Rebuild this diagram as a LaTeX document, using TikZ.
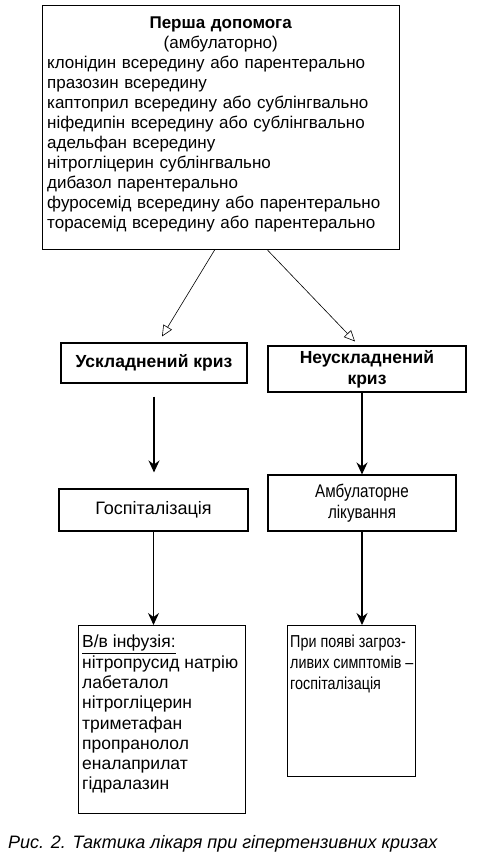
\documentclass[tikz,border=0pt]{standalone}
\usepackage{fontspec}
\setmainfont{Liberation Sans}
\newfontfamily\narrowsans[FakeStretch=0.83]{Liberation Sans}
\usetikzlibrary{arrows.meta}

\tikzset{
    box/.style={draw, line width=1.1pt, inner sep=0pt, anchor=north west},
    boxtext/.style={anchor=north west, align=left, inner sep=0pt,
        font=\fontsize{17}{20}\selectfont},
    smallbox/.style={draw, line width=1.1pt, inner sep=0pt, align=center,
        font=\fontsize{17.5}{21}\selectfont},
    openarrow/.style={line width=0.6pt, -{Triangle[open, length=11pt, width=10pt]}},
    solidarrow/.style={line width=1.1pt, -{Stealth[length=12pt, width=11pt, inset=4pt]}}
}

\begin{document}
\begin{tikzpicture}[x=1pt, y=-1pt]
    \useasboundingbox (0,0) rectangle (477,860);

    % first aid box
    \node[box, minimum width=357pt, minimum height=244pt] (aid) at (42,5) {};
    \node[boxtext, text width=347pt] (aidtext) at (47,17) {%
        {\centering\textbf{Перша допомога}\\(амбулаторно)\par}
        клонідин всередину або парентерально\\
        празозин всередину\\
        каптоприл всередину або сублінгвально\\
        ніфедипін всередину або сублінгвально\\
        адельфан всередину\\
        нітрогліцерин сублінгвально\\
        дибазол парентерально\\
        фуросемід всередину або парентерально\\
        торасемід всередину або парентерально};

    % crisis types
    \node[smallbox, minimum width=186pt, minimum height=40pt] (compl) at (154,363) {\textbf{Ускладнений криз}};
    \node[smallbox, minimum width=198pt, minimum height=46pt] (uncompl) at (367,369) {\textbf{Неускладнений}\\\textbf{криз}};

    \draw[openarrow] ([xshift=-6.5pt]aid.south) -- ([xshift=8pt, yshift=6pt]compl.north);
    \draw[openarrow] ([xshift=46.5pt]aid.south) -- ([xshift=-12pt, yshift=4pt]uncompl.north);

    % next steps
    \node[smallbox, minimum width=189pt, minimum height=42pt, font=\fontsize{18}{21}\selectfont] (hosp) at (153.5,510) {Госпіталізація};
    \node[smallbox, minimum width=188pt, minimum height=56pt, font=\narrowsans\fontsize{18.3}{21}\selectfont] (amb) at (362,503) {Амбулаторне\\лікування};

    \draw[solidarrow, shorten <=13pt, shorten >=16pt] (compl.south) -- (compl.south |- hosp.north);
    \draw[solidarrow] (amb.north |- uncompl.south) -- (amb.north);

    % treatment boxes
    \node[box, minimum width=167pt, minimum height=188pt] (infus) at (78,625) {};
    \node[boxtext, font=\fontsize{17.5}{20.3}\selectfont] (infustext) at (82,635) {%
        \underline{В/в інфузія:}\\
        нітропрусид натрію\\
        лабеталол\\
        нітрогліцерин\\
        триметафан\\
        пропранолол\\
        еналаприлат\\
        гідралазин};
    \node[box, minimum width=128pt, minimum height=151pt] (later) at (287,625) {};
    \node[boxtext, font=\narrowsans\fontsize{17.3}{21}\selectfont] (latertext) at (290,635) {%
        При появі загроз-\\
        ливих симптомів –\\
        госпіталізація};

    \draw[solidarrow] (hosp.south) -- (hosp.south |- infus.north);
    \draw[solidarrow] (amb.south) -- (amb.south |- later.north);

    % caption
    \node[anchor=south west, inner sep=0pt, font=\fontsize{18}{20}\selectfont\itshape] (caption) at (8,852)
        {Рис. 2. Тактика лікаря при гіпертензивних кризах};
\end{tikzpicture}
\end{document}
